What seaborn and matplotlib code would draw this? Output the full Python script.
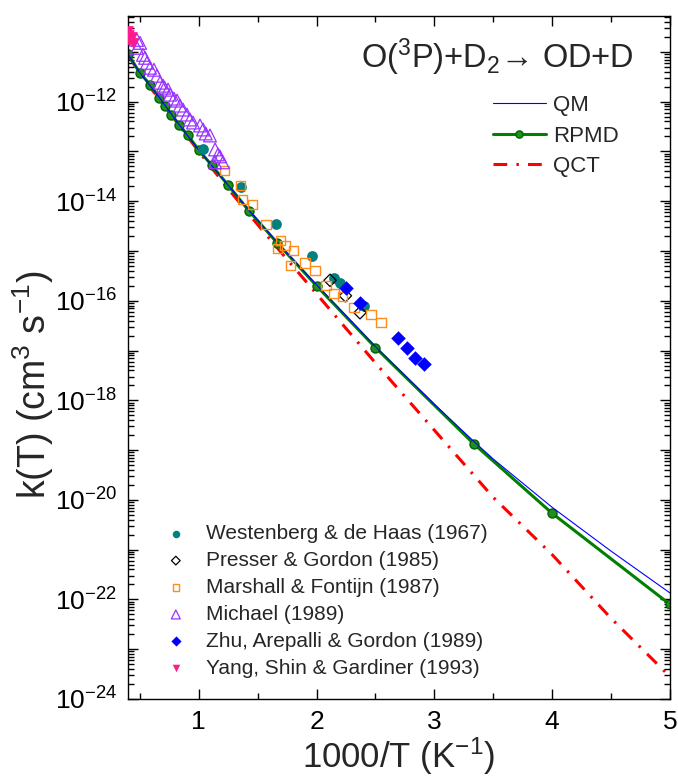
import numpy as np
import matplotlib
matplotlib.use('Agg')
import matplotlib.pyplot as plt
from matplotlib.ticker import (LogLocator, FixedLocator, MultipleLocator,
                               FuncFormatter, NullFormatter)
import seaborn as sns

# ---- theory curves: x = 1000/T, values are log10 k(T)
qm_x = [0.4, 0.5, 0.667, 0.833, 1.0, 1.25, 1.429, 1.667, 2.0, 2.5, 3.0, 3.333, 3.5, 4.0, 4.5, 5.0]
qm_lk = [-11.05, -11.42, -11.92, -12.46, -12.97, -13.68, -14.19, -14.83, -15.68, -16.92,
         -18.08, -18.82, -19.18, -20.15, -21.03, -21.87]

rpmd_x = [0.4, 0.5, 0.588, 0.667, 0.714, 0.769, 0.833, 0.909, 1.0, 1.111, 1.25, 1.429,
          1.667, 2.0, 2.5, 3.333, 4.0, 5.0]
rpmd_lk = [-11.05, -11.42, -11.66, -11.92, -12.08, -12.26, -12.46, -12.68, -12.97, -13.28,
           -13.68, -14.20, -14.84, -15.70, -16.94, -18.87, -20.27, -22.10]

qct_x = [0.4, 0.5, 0.714, 1.0, 1.25, 1.5, 1.75, 2.0, 2.5, 3.0, 3.5, 4.0, 4.5, 5.0]
qct_lk = [-11.05, -11.44, -12.10, -13.00, -13.75, -14.47, -15.17, -15.86, -17.25, -18.60,
          -19.95, -21.10, -22.38, -23.55]

# ---- experiments
wh_x = [1.037, 1.357, 1.656, 1.962, 2.149, 2.200, 2.406]
wh_lk = [-12.96, -13.72, -14.46, -15.11, -15.54, -15.65, -16.11]

pg_x = [2.115, 2.245, 2.369]
pg_lk = [-15.59, -15.90, -16.24]

mf_x = [1.218, 1.353, 1.374, 1.455, 1.572, 1.696, 1.733, 1.669, 1.803, 1.903, 1.778,
        1.987, 2.081, 2.149, 2.223, 2.318, 2.463, 2.548]
mf_lk = [-13.39, -13.69, -13.97, -14.07, -14.47, -14.79, -14.89, -14.95, -14.99, -15.24,
         -15.29, -15.39, -15.70, -15.85, -15.91, -16.14, -16.27, -16.44]

mi_x = [0.476, 0.502, 0.476, 0.527, 0.545, 0.561, 0.587, 0.620, 0.646, 0.672, 0.697, 0.710,
        0.740, 0.757, 0.790, 0.816, 0.841, 0.867, 0.900, 0.926, 0.952, 1.011, 1.037, 1.060,
        1.096, 1.139, 1.164, 1.180, 1.206, 1.139]
mi_lk = [-10.76, -10.82, -10.92, -11.06, -11.12, -11.22, -11.32, -11.36, -11.48, -11.62,
         -11.68, -11.72, -11.76, -11.86, -11.94, -11.98, -12.08, -12.16, -12.26, -12.36,
         -12.42, -12.48, -12.56, -12.64, -12.68, -12.96, -13.06, -13.10, -13.22, -13.22]

zag_x = [2.246, 2.365, 2.689, 2.766, 2.836, 2.915]
zag_lk = [-15.74, -16.04, -16.75, -16.94, -17.14, -17.27]

ysg_x = [0.400, 0.410, 0.420, 0.430, 0.440, 0.405]
ysg_lk = [-10.58, -10.66, -10.74, -10.70, -10.82, -10.78]

decades = list(range(-24, -10))


def k(v):
    return 10.0 ** np.asarray(v)


sns.set_theme(style='ticks')
plt.rcParams['font.family'] = ['Liberation Sans', 'DejaVu Sans']
plt.rcParams['mathtext.fontset'] = 'custom'
plt.rcParams['mathtext.rm'] = 'Liberation Sans'
plt.rcParams['mathtext.it'] = 'Liberation Sans:italic'
plt.rcParams['mathtext.bf'] = 'Liberation Sans:bold'
plt.rcParams['mathtext.default'] = 'regular'

fig = plt.figure(figsize=(6.78, 7.79), dpi=100)
ax = fig.add_axes([128/678, 1 - 699/779, 542/678, 683/779])
ax.set_yscale('log')

sns.lineplot(x=rpmd_x, y=k(rpmd_lk), ax=ax, color='#008000', lw=2.2, marker='o',
             markersize=6.5, markerfacecolor='#1f8f1f', markeredgecolor='#006400',
             markeredgewidth=1, label='RPMD', legend=False, zorder=2)
sns.lineplot(x=qm_x, y=k(qm_lk), ax=ax, color='#0000ff', lw=0.8, label='QM',
             legend=False, zorder=2.5)
sns.lineplot(x=qct_x, y=k(qct_lk), ax=ax, color='#ff0000', lw=2.2, label='QCT',
             legend=False, zorder=1.8)
ax.lines[-1].set_dashes((4.5, 3, 0.8, 3))
ax.lines[-1].set_dash_capstyle('butt')

sns.scatterplot(x=wh_x, y=k(wh_lk), ax=ax, marker='o', s=60, color='#008080',
                edgecolor='#008080', linewidth=0, label='Westenberg & de Haas (1967)',
                legend=False, zorder=3)
sns.scatterplot(x=pg_x, y=k(pg_lk), ax=ax, marker='D', s=40, facecolor='none',
                edgecolor='black', linewidth=0.9, label='Presser & Gordon (1985)',
                legend=False, zorder=3)
sns.scatterplot(x=mf_x, y=k(mf_lk), ax=ax, marker='s', s=45, facecolor='none',
                edgecolor='#ff8c1a', linewidth=1.0, label='Marshall & Fontijn (1987)',
                legend=False, zorder=3)
sns.scatterplot(x=mi_x, y=k(mi_lk), ax=ax, marker='^', s=85, facecolor='none',
                edgecolor='#9933ff', linewidth=0.9, label='Michael (1989)',
                legend=False, zorder=3)
sns.scatterplot(x=zag_x, y=k(zag_lk), ax=ax, marker='D', s=55, color='#0000ff',
                edgecolor='#0000ff', linewidth=0, label='Zhu, Arepalli & Gordon (1989)',
                legend=False, zorder=3)
sns.scatterplot(x=ysg_x, y=k(ysg_lk), ax=ax, marker='v', s=60, color='#ff1a8c',
                edgecolor='#ff1a8c', linewidth=0, label='Yang, Shin & Gardiner (1993)',
                legend=False, zorder=3)

ax.set_xlim(0.4, 5)
ax.set_ylim(1e-24, 10 ** -10.28)

ax.xaxis.set_major_locator(MultipleLocator(1))
ax.xaxis.set_minor_locator(MultipleLocator(0.5))
ax.yaxis.set_major_locator(FixedLocator([10.0 ** e for e in decades]))
ax.yaxis.set_minor_locator(LogLocator(base=10, subs=np.arange(2, 10), numticks=40))
ax.yaxis.set_minor_formatter(NullFormatter())


def ylab(v, pos):
    e = int(round(np.log10(v)))
    if e % 2:
        return ''
    return r'10$^{%d}$' % e


ax.yaxis.set_major_formatter(FuncFormatter(ylab))
ax.tick_params(which='both', direction='in', top=True, right=True, width=1,
               colors='black', labelsize=19)
ax.tick_params(which='major', length=7, pad=8)
ax.tick_params(which='minor', length=4)
for s in ax.spines.values():
    s.set_linewidth(1.0)
    s.set_color('black')

ax.set_xlabel('1000/T (K$^{-1}$)', fontsize=25, labelpad=1)
ax.set_ylabel('k(T) (cm$^{3}$ s$^{-1}$)', fontsize=27)
ax.yaxis.set_label_coords(-0.133, 0.46)

ax.text(0.43, 0.94, r'O($^{3}$P)+D$_{2}$' + '\u2192 OD+D', transform=ax.transAxes,
        ha='left', va='center', fontsize=23.5)

handles, labels = ax.get_legend_handles_labels()
hmap = dict(zip(labels, handles))
line_names = ['QM', 'RPMD', 'QCT']
exp_names = ['Westenberg & de Haas (1967)', 'Presser & Gordon (1985)',
             'Marshall & Fontijn (1987)', 'Michael (1989)',
             'Zhu, Arepalli & Gordon (1989)', 'Yang, Shin & Gardiner (1993)']

leg1 = ax.legend([hmap[n] for n in line_names], line_names, loc='upper left',
                 bbox_to_anchor=(0.673, 0.884), frameon=False, fontsize=16,
                 handlelength=2.4, handletextpad=0.3, labelspacing=0.42,
                 markerscale=0.8, borderpad=0, borderaxespad=0)
ax.add_artist(leg1)
ax.legend([hmap[n] for n in exp_names], exp_names, loc='upper left',
          bbox_to_anchor=(0.069, 0.256), frameon=False, fontsize=15,
          handlelength=1.0, handletextpad=0.95, labelspacing=0.38, markerscale=0.7,
          borderpad=0, borderaxespad=0)

fig.savefig('out.png', dpi=100)
